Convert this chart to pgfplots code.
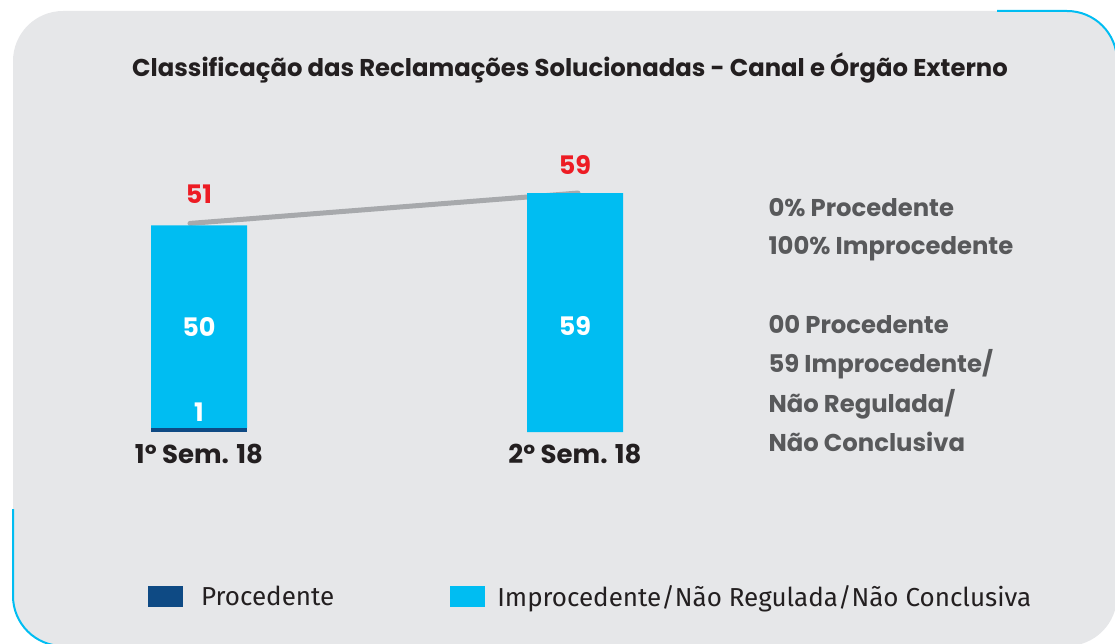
\documentclass[border=0pt]{standalone}
\usepackage{fontspec}
\setmainfont{Poppins}
\newfontfamily\legfont{Fira Sans}
\usepackage{pgfplots}
\pgfplotsset{compat=1.18}
\definecolor{bgc}{RGB}{230,231,233}
\definecolor{cy}{RGB}{0,189,242}
\definecolor{db}{RGB}{14,74,132}
\definecolor{lg}{RGB}{167,169,172}
\definecolor{rd}{RGB}{237,28,36}
\definecolor{gt}{RGB}{88,89,91}
\definecolor{tx}{RGB}{35,31,32}
\begin{document}
\begin{tikzpicture}[x=1pt,y=1pt]
\clip (0,0) rectangle (1115,643);
\fill[bgc, rounded corners=50pt] (13,-3) rectangle (1117,632);
\draw[cy, line width=2pt, rounded corners=50pt] (997,632) -- (1117,632) -- (1117,400);
\draw[cy, line width=2pt, rounded corners=50pt] (13,134) -- (13,-3) -- (200,-3);
\node[anchor=base, font=\bfseries\fontsize{24.3}{28}\selectfont, text=tx] at (570,566) {Classificação das Reclamações Solucionadas - Canal e Órgão Externo};
\begin{axis}[
  at={(11pt,211pt)}, anchor=south west, scale only axis,
  width=752pt, height=405pt,
  xmin=-0.5, xmax=1.5, ymin=0, ymax=100,
  ybar stacked, bar width=96pt,
  axis line style={draw=none}, ytick=\empty,
  xtick={0,1}, xticklabels={1º Sem. 18, 2º Sem. 18},
  major tick length=0pt,
  xticklabel style={font=\bfseries\fontsize{26}{30}\selectfont, text=tx, anchor=base, yshift=-31pt},
  clip=false,
  legend columns=2,
  legend cell align=left,
  legend style={at={(0.182,-0.407)}, anchor=west, draw=none, fill=none, inner sep=0pt,
    font=\legfont\fontsize{26}{30}\selectfont, text=tx,
    /tikz/every even column/.append style={column sep=114pt}},
]
\addplot[fill=db, draw=none, legend image code/.code={\fill[db] (0pt,-10.5pt) rectangle (35pt,10.5pt); \path (51pt,0pt);}] coordinates {(0,1) (1,0)};
\addlegendentry{Procedente}
\addplot[fill=cy, draw=none, legend image code/.code={\fill[cy] (0pt,-10.5pt) rectangle (35pt,10.5pt); \path (45pt,0pt);}] coordinates {(0,50) (1,59)};
\addlegendentry{Improcedente/Não Regulada/Não Conclusiva}
\addplot[sharp plot, stack plots=false, lg, line width=5pt, line cap=round, forget plot] coordinates {(-0.024,51.5) (1.008,59)};
\coordinate (r51) at (axis cs:0,56.5);
\coordinate (r59) at (axis cs:1,63.7);
\coordinate (w50) at (axis cs:0,23.7);
\coordinate (w1) at (axis cs:0,2.5);
\coordinate (w59) at (axis cs:1,23.9);
\end{axis}
\begin{scope}[every node/.style={anchor=base, font=\bfseries\fontsize{25.5}{30}\selectfont}]
\node[text=rd] at (r51) {51};
\node[text=rd] at (r59) {59};
\node[text=white] at (w50) {50};
\node[text=white] at (w1) {1};
\node[text=white] at (w59) {59};
\end{scope}
\begin{scope}[every node/.style={anchor=base west, text=gt, font=\bfseries\fontsize{24.3}{28}\selectfont}]
\node at (765,426) {0\% Procedente};
\node at (765,388) {100\% Improcedente};
\node at (765,309) {00 Procedente};
\node at (765,270) {59 Improcedente/};
\node at (765,231) {Não Regulada/};
\node at (765,192) {Não Conclusiva};
\end{scope}
\end{tikzpicture}
\end{document}
